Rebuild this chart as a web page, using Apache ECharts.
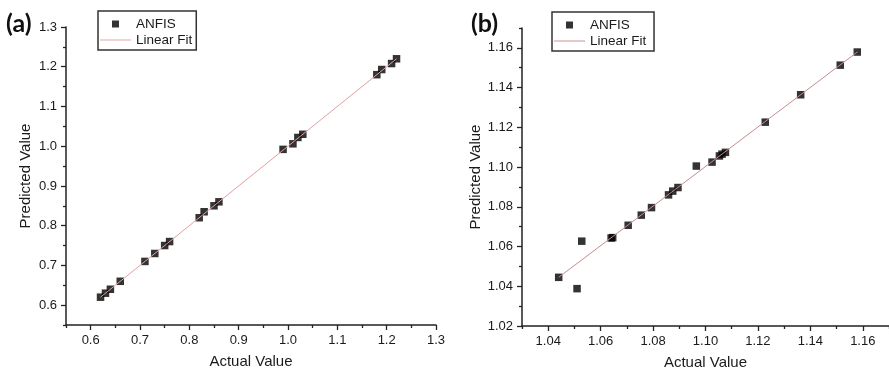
<!DOCTYPE html>
<html>
<head>
<meta charset="utf-8">
<script src="https://cdn.jsdelivr.net/npm/echarts@6/dist/echarts.min.js"></script>
<style>
html,body{margin:0;padding:0;background:#fff;}
#chart{width:889px;height:375px;}
</style>
</head>
<body>
<div id="chart"></div>
<script>
// ---- Panel (a) data ----
const actualA = [0.62,0.63,0.64,0.66,0.71,0.73,0.75,0.76,0.82,0.83,0.85,0.86,0.99,1.01,1.02,1.03,1.18,1.19,1.21,1.22];
const predA   = [0.62,0.63,0.64,0.66,0.71,0.73,0.75,0.76,0.82,0.835,0.85,0.86,0.992,1.006,1.022,1.03,1.18,1.193,1.208,1.22];
const fitAX = [0.62, 1.22];
const fitAY = [0.62, 1.22];
const majorTicksA = [0.6,0.7,0.8,0.9,1.0,1.1,1.2,1.3];
const minorTicksA = [0.55,0.65,0.75,0.85,0.95,1.05,1.15,1.25];

// ---- Panel (b) data ----
const actualB = [1.0440,1.0510,1.0528,1.0640,1.0646,1.0705,1.0755,1.0794,1.0859,1.0875,1.0895,1.0965,1.1025,1.1053,1.1063,1.1076,1.1228,1.1363,1.1514,1.1579];
const predB   = [1.0445,1.0388,1.0627,1.0643,1.0645,1.0707,1.0758,1.0796,1.0860,1.0879,1.0897,1.1005,1.1025,1.1056,1.1065,1.1074,1.1226,1.1364,1.1513,1.1579];
const fitBX = [1.044, 1.158];
const fitBY = [1.0445, 1.158];
const majorTicksBX = [1.04,1.06,1.08,1.10,1.12,1.14,1.16];
const minorTicksBX = [1.03,1.05,1.07,1.09,1.11,1.13,1.15,1.17];
const majorTicksBY = [1.02,1.04,1.06,1.08,1.10,1.12,1.14,1.16];
const minorTicksBY = [1.03,1.05,1.07,1.09,1.11,1.13,1.15,1.17];

const FONT = "Liberation Sans, Arial, sans-serif";
const AXC = '#222';
const FIT_A = '#e2a0a0';
const FIT_B = '#c48d8d';

function zip(xs, ys){ return xs.map((x,i)=>[x, ys[i]]); }

function mainAxis(dim, grid, min, max, ticks, name, nameGap, decimals){
  return {
    type: 'value', gridIndex: grid, min: min, max: max,
    position: dim === 'x' ? 'bottom' : 'left',
    name: name, nameLocation: 'middle', nameGap: nameGap,
    nameTextStyle: {fontFamily: FONT, fontSize: 15, color: '#1a1a1a'},
    axisLine: {show: true, onZero: false, lineStyle: {color: AXC, width: 1.5}},
    axisTick: {show: true, customValues: ticks, length: 5, lineStyle: {color: AXC, width: 1.3}},
    axisLabel: {show: true, customValues: ticks, margin: 9, fontFamily: FONT, fontSize: 13, color: '#1a1a1a',
      formatter: v => Number(v).toFixed(decimals)},
    splitLine: {show: false}
  };
}
function minorAxis(dim, grid, min, max, ticks){
  return {
    type: 'value', gridIndex: grid, min: min, max: max,
    position: dim === 'x' ? 'bottom' : 'left',
    axisLine: {show: false, onZero: false},
    axisTick: {show: true, customValues: ticks, length: 3, lineStyle: {color: AXC, width: 1.3}},
    axisLabel: {show: false},
    splitLine: {show: false}
  };
}

const squareIcon = 'path://M0 0h10v10h-10z';
const lineIcon = 'path://M0 0h100v3h-100z';

function legendAt(left, top, names){
  return {
    data: [{name: names[0], icon: squareIcon}, {name: names[1], icon: lineIcon}],
    orient: 'vertical', left: left, top: top, itemWidth: 31, itemHeight: 7, itemGap: 2,
    padding: [6, 4, 3, 2], borderColor: '#333', borderWidth: 1.5,
    textStyle: {fontFamily: FONT, fontSize: 13.5, color: '#1a1a1a'}
  };
}

const option = {
  animation: false,
  backgroundColor: '#fff',
  title: [
    {text: '(a)', left: 6, top: 11, padding: 0, textStyle: {fontFamily: 'Lato, sans-serif', fontWeight: 'bold', fontSize: 25, color: '#111'}},
    {text: '(b)', left: 471, top: 11, padding: 0, textStyle: {fontFamily: 'Lato, sans-serif', fontWeight: 'bold', fontSize: 25, color: '#111'}}
  ],
  legend: [
    legendAt(98, 11, ['ANFIS', 'Linear Fit']),
    legendAt(552, 12, ['ANFIS ', 'Linear Fit '])
  ],
  grid: [
    {left: 66, top: 27, width: 370, height: 298, containLabel: false},
    {left: 522, top: 28, width: 368, height: 298, containLabel: false}
  ],
  xAxis: [
    mainAxis('x', 0, 0.55, 1.3, majorTicksA, 'Actual Value', 29, 1),
    mainAxis('x', 1, 1.03, 1.17, majorTicksBX, 'Actual Value', 29, 2),
    minorAxis('x', 0, 0.55, 1.3, minorTicksA),
    minorAxis('x', 1, 1.03, 1.17, minorTicksBX)
  ],
  yAxis: [
    mainAxis('y', 0, 0.55, 1.3, majorTicksA, 'Predicted Value', 33, 1),
    mainAxis('y', 1, 1.02, 1.17, majorTicksBY, 'Predicted Value', 39, 2),
    minorAxis('y', 0, 0.55, 1.3, minorTicksA),
    minorAxis('y', 1, 1.02, 1.17, minorTicksBY)
  ],
  series: [
    {name: 'ANFIS', type: 'scatter', xAxisIndex: 0, yAxisIndex: 0, data: zip(actualA, predA),
     symbol: 'rect', symbolSize: 7.5, itemStyle: {color: '#000'}, z: 2},
    {name: 'Linear Fit', type: 'line', xAxisIndex: 0, yAxisIndex: 0, data: zip(fitAX, fitAY),
     symbol: 'none', itemStyle: {color: FIT_A}, lineStyle: {color: FIT_A, width: 1}, z: 3},
    {name: 'ANFIS ', type: 'scatter', xAxisIndex: 1, yAxisIndex: 1, data: zip(actualB, predB),
     symbol: 'rect', symbolSize: 7.5, itemStyle: {color: '#000'}, z: 2},
    {name: 'Linear Fit ', type: 'line', xAxisIndex: 1, yAxisIndex: 1, data: zip(fitBX, fitBY),
     symbol: 'none', itemStyle: {color: FIT_B}, lineStyle: {color: FIT_B, width: 1}, z: 3}
  ]
};

const chart = echarts.init(document.getElementById('chart'), null, {renderer: 'canvas'});
chart.setOption(option);
</script>
</body>
</html>
